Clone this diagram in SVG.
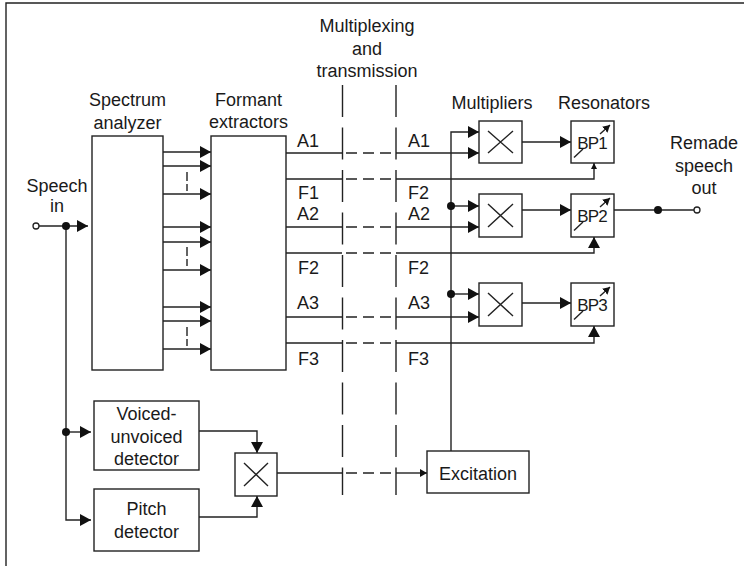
<svg xmlns="http://www.w3.org/2000/svg" width="744" height="566" viewBox="0 0 744 566">
<style>
  .box{fill:#fff;stroke:#222;stroke-width:1.4}
  .ln{fill:none;stroke:#222;stroke-width:1.4}
  .dash{fill:none;stroke:#222;stroke-width:1.4;stroke-dasharray:11 6}
  .vd{fill:none;stroke:#222;stroke-width:1.4;stroke-dasharray:32 10.5}
  .tk{fill:none;stroke:#222;stroke-width:1.4;stroke-dasharray:9 3}
  .t{font-family:"Liberation Sans",Arial,sans-serif;font-size:18px;fill:#1a1a1a;text-anchor:middle}
  .l{font-family:"Liberation Sans",Arial,sans-serif;font-size:18px;fill:#1a1a1a}
  .bp{font-family:"Liberation Sans",Arial,sans-serif;font-size:17px;fill:#1a1a1a;text-anchor:middle;letter-spacing:-0.8px}
  .dot{fill:#111}
</style>
<defs>
  <marker id="ah" markerUnits="userSpaceOnUse" markerWidth="11" markerHeight="12" refX="11" refY="6" orient="auto">
    <path d="M0,0 L11,6 L0,12 z" fill="#111"/>
  </marker>
  <marker id="ahs" markerUnits="userSpaceOnUse" markerWidth="7" markerHeight="8" refX="7" refY="4" orient="auto">
    <path d="M0,0 L7,4 L0,8 z" fill="#111"/>
  </marker>
  <marker id="aht" markerUnits="userSpaceOnUse" markerWidth="6" markerHeight="6" refX="6" refY="3" orient="auto">
    <path d="M0,0 L6,3 L0,6 z" fill="#111"/>
  </marker>
</defs>
<rect x="0" y="0" width="744" height="566" fill="#fff"/>
<path class="ln" d="M6,566 V3 H744" stroke="#333"/>

<g id="connectors">
  <path class="ln" d="M39,226 H88" marker-end="url(#ah)"/>
  <path class="ln" d="M66,226 V520 H91" marker-end="url(#ah)"/>
  <path class="ln" d="M66,432 H91" marker-end="url(#ah)"/>
  <circle class="dot" cx="66" cy="226" r="4"/>
  <circle class="dot" cx="66" cy="432" r="4"/>
  <circle cx="36" cy="226" r="3" fill="#fff" stroke="#222" stroke-width="1.3"/>

  <path class="ln" d="M163,152 H211" marker-end="url(#ah)"/>
  <path class="ln" d="M163,166 H211" marker-end="url(#ah)"/>
  <path class="ln" d="M163,194 H211" marker-end="url(#ah)"/>
  <path class="ln" d="M163,227 H211" marker-end="url(#ah)"/>
  <path class="ln" d="M163,242 H211" marker-end="url(#ah)"/>
  <path class="ln" d="M163,270 H211" marker-end="url(#ah)"/>
  <path class="ln" d="M163,307 H211" marker-end="url(#ah)"/>
  <path class="ln" d="M163,321 H211" marker-end="url(#ah)"/>
  <path class="ln" d="M163,349 H211" marker-end="url(#ah)"/>
  <path class="tk" d="M187,172 V191"/>
  <path class="tk" d="M187,247 V266"/>
  <path class="tk" d="M187,327 V346"/>

  <path class="vd" d="M342.5,85 V495"/>
  <path class="vd" d="M396,85 V495"/>

  <path class="ln" d="M286,153 H342 M286,179 H342 M286,227 H342 M286,253 H342 M286,317 H342 M286,343 H342 M277,473 H342"/>
  <path class="dash" d="M346,153 H393 M346,179 H393 M346,227 H393 M346,253 H393 M346,317 H393 M346,343 H393 M346,473 H393"/>

  <path class="ln" d="M396,153 H479" marker-end="url(#ah)"/>
  <path class="ln" d="M396,227 H479" marker-end="url(#ah)"/>
  <path class="ln" d="M396,317 H479" marker-end="url(#ah)"/>
  <path class="ln" d="M396,179 H594 V163" marker-end="url(#aht)"/>
  <path class="ln" d="M396,253 H594 V237" marker-end="url(#ah)"/>
  <path class="ln" d="M396,343 H594 V326" marker-end="url(#ah)"/>

  <path class="ln" d="M451,451 V132 H479" marker-end="url(#ah)"/>
  <path class="ln" d="M451,206 H479" marker-end="url(#ah)"/>
  <path class="ln" d="M451,294 H479" marker-end="url(#ah)"/>
  <circle class="dot" cx="451" cy="206" r="4"/>
  <circle class="dot" cx="451" cy="294" r="4"/>

  <path class="ln" d="M522,142 H571" marker-end="url(#ah)"/>
  <path class="ln" d="M522,210 H571" marker-end="url(#ah)"/>
  <path class="ln" d="M522,303 H571" marker-end="url(#ah)"/>

  <path class="ln" d="M614,210 H694"/>
  <circle class="dot" cx="658" cy="210" r="4"/>
  <circle cx="697" cy="210" r="3" fill="#fff" stroke="#222" stroke-width="1.3"/>

  <path class="ln" d="M199,431 H257 V453" marker-end="url(#ah)"/>
  <path class="ln" d="M199,517 H257 V496" marker-end="url(#ah)"/>
  <path class="ln" d="M396,473 H427" marker-end="url(#ahs)"/>
</g>

<g id="spectrum-analyzer">
  <rect class="box" x="92" y="136" width="71" height="234"/>
  <text class="t" x="127.5" y="106">Spectrum</text>
  <text class="t" x="127.5" y="128.5">analyzer</text>
</g>
<g id="formant-extractors">
  <rect class="box" x="211" y="136" width="75" height="234"/>
  <text class="t" x="248.5" y="105.5">Formant</text>
  <text class="t" x="248.5" y="127.5">extractors</text>
</g>
<g id="transmission-label">
  <text class="t" x="367" y="32">Multiplexing</text>
  <text class="t" x="367" y="55">and</text>
  <text class="t" x="367" y="77">transmission</text>
</g>
<g id="channel-labels">
  <text class="l" x="297" y="147">A1</text>
  <text class="l" x="298" y="198.5">F1</text>
  <text class="l" x="297" y="220">A2</text>
  <text class="l" x="298" y="274">F2</text>
  <text class="l" x="297" y="309">A3</text>
  <text class="l" x="298" y="364.5">F3</text>
  <text class="l" x="408" y="147">A1</text>
  <text class="l" x="408" y="198.5">F2</text>
  <text class="l" x="408" y="220">A2</text>
  <text class="l" x="408" y="274">F2</text>
  <text class="l" x="408" y="309">A3</text>
  <text class="l" x="408" y="364.5">F3</text>
</g>
<g id="speech-in">
  <text class="t" x="57" y="192">Speech</text>
  <text class="t" x="57" y="212">in</text>
</g>
<g id="speech-out">
  <text class="t" x="704" y="149">Remade</text>
  <text class="t" x="704" y="171.5">speech</text>
  <text class="t" x="704" y="194">out</text>
</g>
<g id="headers">
  <text class="t" x="492" y="109">Multipliers</text>
  <text class="t" x="604" y="109">Resonators</text>
</g>
<g id="multiplier-1">
  <rect class="box" x="479" y="121" width="43" height="42"/>
  <path class="ln" d="M488,131 L513,153 M513,131 L488,153"/>
</g>
<g id="multiplier-2">
  <rect class="box" x="479" y="194" width="43" height="43"/>
  <path class="ln" d="M488,204 L513,227 M513,204 L488,227"/>
</g>
<g id="multiplier-3">
  <rect class="box" x="479" y="283" width="43" height="43"/>
  <path class="ln" d="M488,293 L513,316 M513,293 L488,316"/>
</g>
<g id="resonator-1">
  <rect class="box" x="571" y="121" width="43" height="42"/>
  <text class="bp" x="592" y="148.5">BP1</text>
  <path class="ln" d="M574,157.5 L583,149"/>
  <path class="ln" d="M600,134 L610,125" marker-end="url(#ahs)"/>
</g>
<g id="resonator-2">
  <rect class="box" x="571" y="194" width="43" height="43"/>
  <text class="bp" x="592" y="221.5">BP2</text>
  <path class="ln" d="M574,230.5 L583,222"/>
  <path class="ln" d="M600,207 L610,198" marker-end="url(#ahs)"/>
</g>
<g id="resonator-3">
  <rect class="box" x="571" y="283" width="43" height="43"/>
  <text class="bp" x="592" y="310.5">BP3</text>
  <path class="ln" d="M574,319.5 L583,311"/>
  <path class="ln" d="M600,296 L610,287" marker-end="url(#ahs)"/>
</g>
<g id="voiced-unvoiced-detector">
  <rect class="box" x="94" y="401" width="105" height="69"/>
  <text class="t" x="146.5" y="419.5">Voiced-</text>
  <text class="t" x="146.5" y="442.5">unvoiced</text>
  <text class="t" x="146.5" y="465">detector</text>
</g>
<g id="pitch-detector">
  <rect class="box" x="94" y="489" width="105" height="62"/>
  <text class="t" x="146.5" y="515">Pitch</text>
  <text class="t" x="146.5" y="538">detector</text>
</g>
<g id="mixer">
  <rect class="box" x="235" y="453" width="42" height="43"/>
  <path class="ln" d="M244,463 L268,486 M268,463 L244,486"/>
</g>
<g id="excitation">
  <rect class="box" x="427" y="451" width="102" height="42"/>
  <text class="t" x="478" y="479.5">Excitation</text>
</g>
</svg>
